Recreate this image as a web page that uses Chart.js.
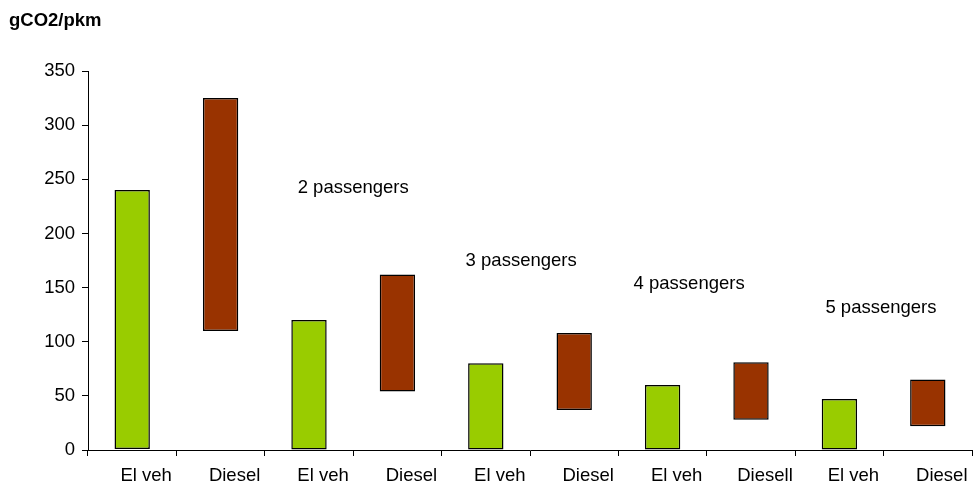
<!DOCTYPE html>
<html><head><meta charset="utf-8">
<script src="https://cdn.jsdelivr.net/npm/chart.js@4/dist/chart.umd.min.js"></script>
<style>html,body{margin:0;padding:0;background:#fff;}</style>
</head><body>
<canvas id="c" width="973" height="487"></canvas>
<script>
// ---- data ----
const categories = ["El veh","Diesel","El veh","Diesel","El veh","Diesel","El veh","Diesell","El veh","Diesel"];
const elLow = [1, 0, 0, 0, 0];
const elHigh = [240, 120, 80, 60, 47];
const dieselLow = [110, 54, 37, 28, 22];
const dieselHigh = [325, 162, 108, 81, 65];
const yMin = 0, yMax = 350, yStep = 50;
const yTitle = "gCO2/pkm";
const noteText = ["2 passengers", "3 passengers", "4 passengers", "5 passengers"];
const noteCat = [2.5, 4.4, 6.3, 8.47];
const noteValue = [242, 175, 153, 131];

const FONT = '"Liberation Sans", Arial, sans-serif';
const elData = categories.map((c, i) => i % 2 === 0 ? [elLow[i / 2], elHigh[i / 2]] : null);
const dieselData = categories.map((c, i) => i % 2 === 1 ? [dieselLow[(i - 1) / 2], dieselHigh[(i - 1) / 2]] : null);

const notesPlugin = {
  id: 'notes',
  afterDraw(chart) {
    const ctx = chart.ctx;
    const xs = chart.scales.x, ys = chart.scales.y;
    ctx.save();
    ctx.fillStyle = '#000';
    ctx.font = '18.5px ' + FONT;
    ctx.textAlign = 'center';
    ctx.textBaseline = 'middle';
    noteText.forEach((t, i) => {
      ctx.fillText(t, xs.getPixelForValue(noteCat[i]), ys.getPixelForValue(noteValue[i]));
    });
    ctx.font = 'bold 18.5px ' + FONT;
    ctx.textAlign = 'left';
    ctx.fillText(yTitle, 9, 21);
    ctx.restore();
  }
};

new Chart(document.getElementById('c'), {
  type: 'bar',
  data: {
    labels: categories,
    datasets: [
      { label: 'El veh', data: elData, backgroundColor: '#99CC00', borderColor: '#000', borderWidth: 1.5, borderSkipped: false, grouped: false, barPercentage: 0.4, categoryPercentage: 1 },
      { label: 'Diesel', data: dieselData, backgroundColor: '#993300', borderColor: '#000', borderWidth: 1.5, borderSkipped: false, grouped: false, barPercentage: 0.4, categoryPercentage: 1 }
    ]
  },
  options: {
    responsive: false,
    devicePixelRatio: 1,
    animation: false,
    layout: { padding: { top: 71, left: 0, right: 1, bottom: 0 } },
    plugins: { legend: { display: false }, tooltip: { enabled: false }, title: { display: false } },
    scales: {
      x: {
        offset: true,
        grid: { offset: true, drawOnChartArea: false, drawTicks: true, tickLength: 6, color: '#000' },
        border: { color: '#000', width: 1 },
        ticks: { color: '#000', font: { family: FONT, size: 18.5 }, padding: 9, labelOffset: 14, maxRotation: 0, autoSkip: false },
        afterFit(s) { s.height = 37; }
      },
      y: {
        min: yMin, max: yMax,
        grid: { drawOnChartArea: false, drawTicks: true, tickLength: 6, color: '#000' },
        border: { color: '#000', width: 1 },
        ticks: { stepSize: yStep, color: '#000', font: { family: FONT, size: 18.5 }, padding: 7 },
        afterFit(s) { s.width = 88; }
      }
    }
  },
  plugins: [notesPlugin]
});
</script>
</body></html>
